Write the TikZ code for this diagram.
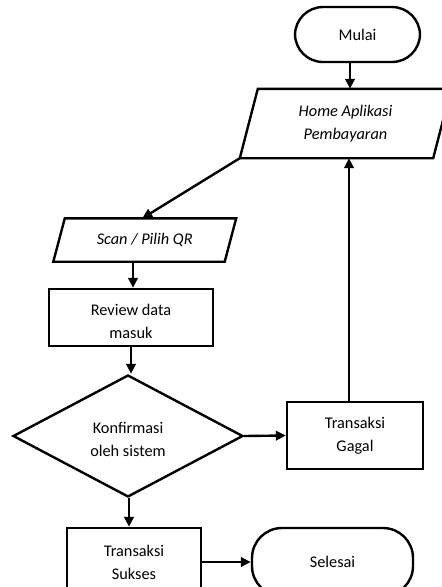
\documentclass[tikz,border=0pt]{standalone}
\usepackage{fontspec}
\setmainfont{Carlito}
\usetikzlibrary{shapes.geometric,arrows.meta,calc}
\begin{document}
\begin{tikzpicture}[x=1pt,y=-1pt,
  every node/.style={font=\fontsize{16.3}{23}\selectfont, align=center, inner sep=0pt},
  box/.style={draw, line width=2.4pt, rectangle},
  term/.style={draw, line width=2.4pt, rectangle, rounded corners=28pt},
  io/.style={rectangle},
  decide/.style={draw, line width=2.4pt, diamond, minimum width=230pt, minimum height=122pt},
  line/.style={line width=2.4pt},
  arr/.style={line width=2.4pt, -{Triangle[length=10pt,width=9.5pt]}}
]
\useasboundingbox (0,0) rectangle (442,587);
\clip (0,0) rectangle (442,587);

% nodes
\node[term, minimum width=125pt, minimum height=55pt] (mulai) at (357.5,34.5) {\raisebox{-2pt}{Mulai}};
\node[io, minimum width=193pt, minimum height=69pt] (home) at (345.5,123.5) {\itshape Home Aplikasi\\\itshape Pembayaran};
\draw[line, line join=miter] ($(home.north west)+(9,0)$) -- ($(home.north east)+(9,0)$)
   -- ($(home.south east)+(-9,0)$) -- ($(home.south west)+(-9,0)$) -- cycle;
\node[io, minimum width=171pt, minimum height=43pt] (scan) at (144.75,240) {\itshape \raisebox{-3pt}{Scan / Pilih QR}};
\draw[line, line join=miter] ($(scan.north west)+(5.75,0)$) -- ($(scan.north east)+(5.75,0)$)
   -- ($(scan.south east)+(-5.75,0)$) -- ($(scan.south west)+(-5.75,0)$) -- cycle;
\node[box, minimum width=164pt, minimum height=57pt] (review) at (131,317.5) {\rule{0pt}{20pt}Review data\\masuk};
\node[decide] (konf) at (128,436) {\rule{0pt}{18pt}Konfirmasi\\oleh sistem};
\node[box, minimum width=136pt, minimum height=67pt] (gagal) at (355,435.5) {Transaksi\\Gagal};
\node[box, minimum width=134pt, minimum height=68pt] (sukses) at (134,562) {Transaksi\\Sukses};
\node[term, rounded corners=30pt, minimum width=161pt, minimum height=68pt] (selesai) at (332.5,562) {Selesai};

\coordinate (homebl) at ($(home.south west)+(-9,0)$);

% connectors
\draw[arr] ([xshift=-7.5pt]mulai.south) -- ([xshift=-7.5pt]mulai.south |- home.north);
\draw[arr] (homebl) -- ([xshift=-2.5pt]scan.north);
\draw[arr] ([xshift=2pt]review.north |- scan.south) -- ([xshift=2pt]review.north);
\draw[arr] (review.south) -- (review.south |- konf.north);
\draw[arr] (konf.east) -- (gagal.west);
\draw[arr] ([xshift=-6pt]gagal.north) -- ([xshift=-6pt]gagal.north |- home.south);
\draw[arr] ([xshift=1pt]konf.south) -- ([xshift=1pt]konf.south |- sukses.north);
\draw[arr] (sukses.east) -- (selesai.west);
\end{tikzpicture}
\end{document}
